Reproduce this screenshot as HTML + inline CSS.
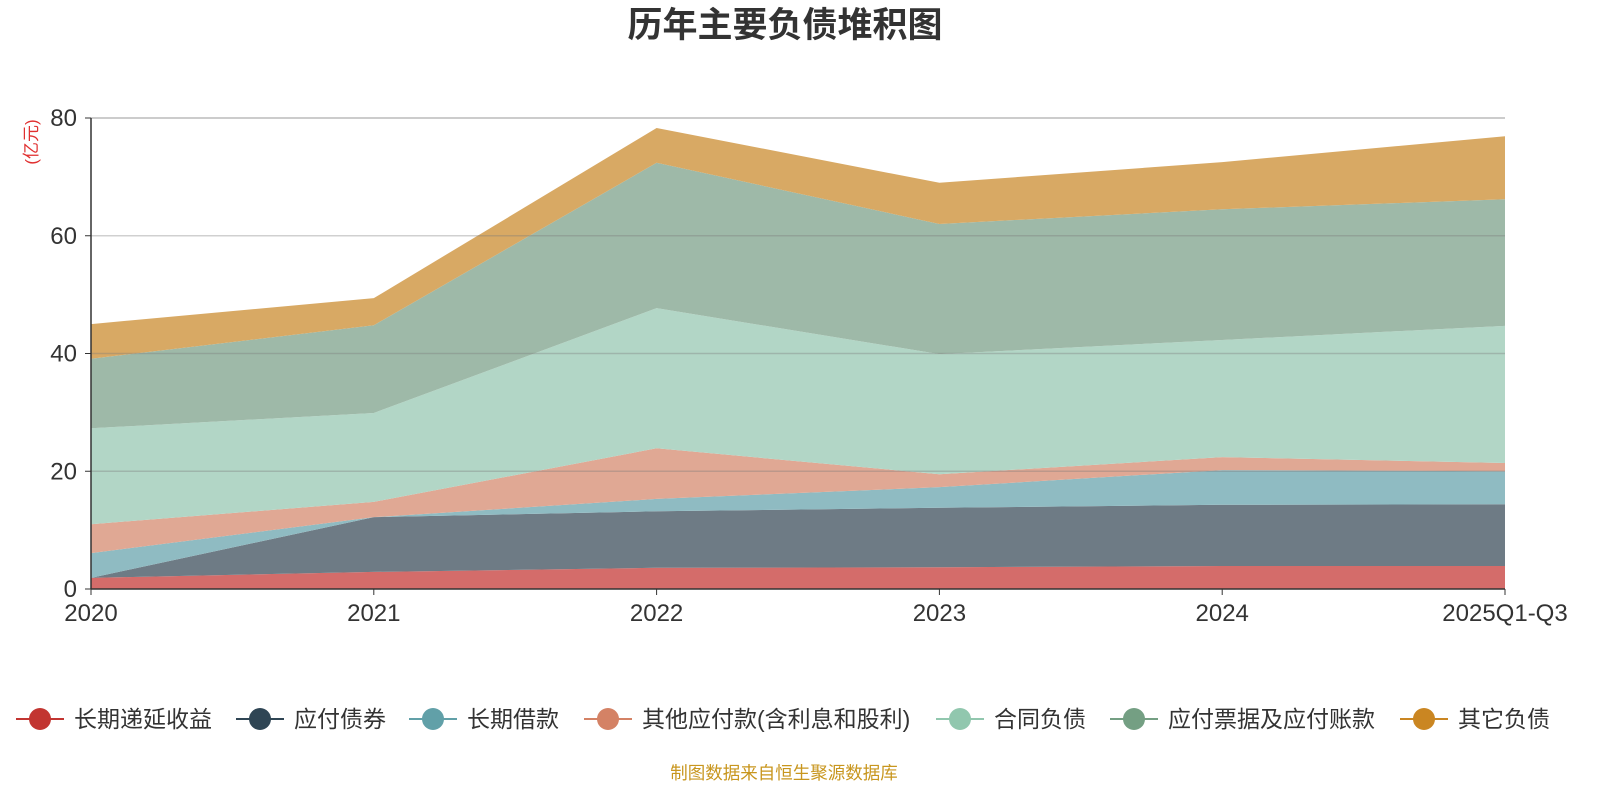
<!DOCTYPE html>
<html><head><meta charset="utf-8">
<style>
body{margin:0;background:#fff;}
svg text{font-family:"Liberation Sans","Noto Sans CJK SC",sans-serif;}
</style></head>
<body>
<svg id="chart" width="1600" height="800">
<text x="785" y="37" text-anchor="middle" font-size="35" font-weight="bold" fill="#333">历年主要负债堆积图</text>
<text transform="translate(37,142) rotate(-90)" text-anchor="middle" font-size="17" fill="#e03030">(亿元)</text>
<g id="areas"></g>
<g id="grid"></g>
<g id="axes"></g>
<g id="legend"></g>
<text x="784" y="779" text-anchor="middle" font-size="17.5" fill="#c8961e">制图数据来自恒生聚源数据库</text>
</svg>
<script>
const categories=["2020","2021","2022","2023","2024","2025Q1-Q3"];
const seriesNames=["长期递延收益","应付债券","长期借款","其他应付款(含利息和股利)","合同负债","应付票据及应付账款","其它负债"];
const deferredIncome=[1.9,2.9,3.6,3.7,3.9,3.9];
const bonds=[0,9.3,9.6,10.1,10.4,10.5];
const longLoans=[4.2,0,2.1,3.5,5.9,5.6];
const otherPayables=[4.9,2.6,8.6,2.2,2.2,1.4];
const contractLiab=[16.3,15.1,23.8,20.4,19.9,23.3];
const notesPayable=[11.8,14.9,24.7,22.1,22.2,21.5];
const otherLiab=[5.9,4.6,5.9,7.0,8.0,10.7];
const yTicks=[0,20,40,60,80];
const series=[deferredIncome,bonds,longLoans,otherPayables,contractLiab,notesPayable,otherLiab];
const fills=["#d46c6a","#6e7b85","#8fbbc2","#e0a894","#b2d6c6","#9eb9a8","#d8a964"];
const icons=["#c23531","#2f4554","#61a0a8","#d48265","#91c7ae","#749f83","#ca8622"];
const ns="http://www.w3.org/2000/svg";
const X0=91,X1=1505,Y0=589,Y1=118,YMAX=80;
const xs=i=>X0+(X1-X0)*i/(categories.length-1);
const ys=v=>Y0-(Y0-Y1)*v/YMAX;
function mk(tag,attrs,parent){const e=document.createElementNS(ns,tag);for(const k in attrs)e.setAttribute(k,attrs[k]);parent.appendChild(e);return e;}
const areas=document.getElementById('areas');
let base=categories.map(()=>0);
series.forEach((s,si)=>{
  const top=base.map((b,i)=>b+s[i]);
  let d="M"+top.map((v,i)=>xs(i)+","+ys(v)).join(" L");
  for(let i=base.length-1;i>=0;i--)d+=" L"+xs(i)+","+ys(base[i]);
  d+="Z";
  const p=mk('path',{d:d,fill:fills[si]},areas);
  
  
  base=top;
});
const grid=document.getElementById('grid');
yTicks.forEach(t=>{
  if(t>0){const l=mk('line',{x1:X0,x2:X1,y1:ys(t),y2:ys(t),stroke:t==80?"#bbb":"rgba(120,120,120,0.35)","stroke-width":1.5},grid);
  
  }
  const tx=mk('text',{x:X0-14,y:ys(t)+8,"text-anchor":"end","font-size":24,fill:"#333"},grid);
  tx.textContent=t;
  
  
  mk('line',{x1:X0-6,x2:X0,y1:ys(t),y2:ys(t),stroke:"#333"},grid);
});
const axes=document.getElementById('axes');
const ya=mk('line',{x1:X0,x2:X0,y1:Y1,y2:Y0,stroke:"#333","stroke-width":1.5},axes);


const xa=mk('line',{x1:X0,x2:X1,y1:Y0,y2:Y0,stroke:"#333","stroke-width":1.5},axes);


categories.forEach((c,i)=>{
  mk('line',{x1:xs(i),x2:xs(i),y1:Y0,y2:Y0+6,stroke:"#333"},axes);
  const t=mk('text',{x:xs(i),y:621,"text-anchor":"middle","font-size":24,fill:"#333"},axes);
  t.textContent=c;
  
  
});
const legend=document.getElementById('legend');
const lx=[16,236,409,584,936,1110,1400];
seriesNames.forEach((n,i)=>{
  const g=mk('g',{},legend);
  
  
  mk('line',{x1:lx[i],x2:lx[i]+48,y1:719,y2:719,stroke:icons[i],"stroke-width":2},g);
  mk('circle',{cx:lx[i]+24,cy:719,r:11,fill:icons[i]},g);
  const t=mk('text',{x:lx[i]+58,y:727,"font-size":23,fill:"#333"},g);
  t.textContent=n;
});
</script>
</body></html>
